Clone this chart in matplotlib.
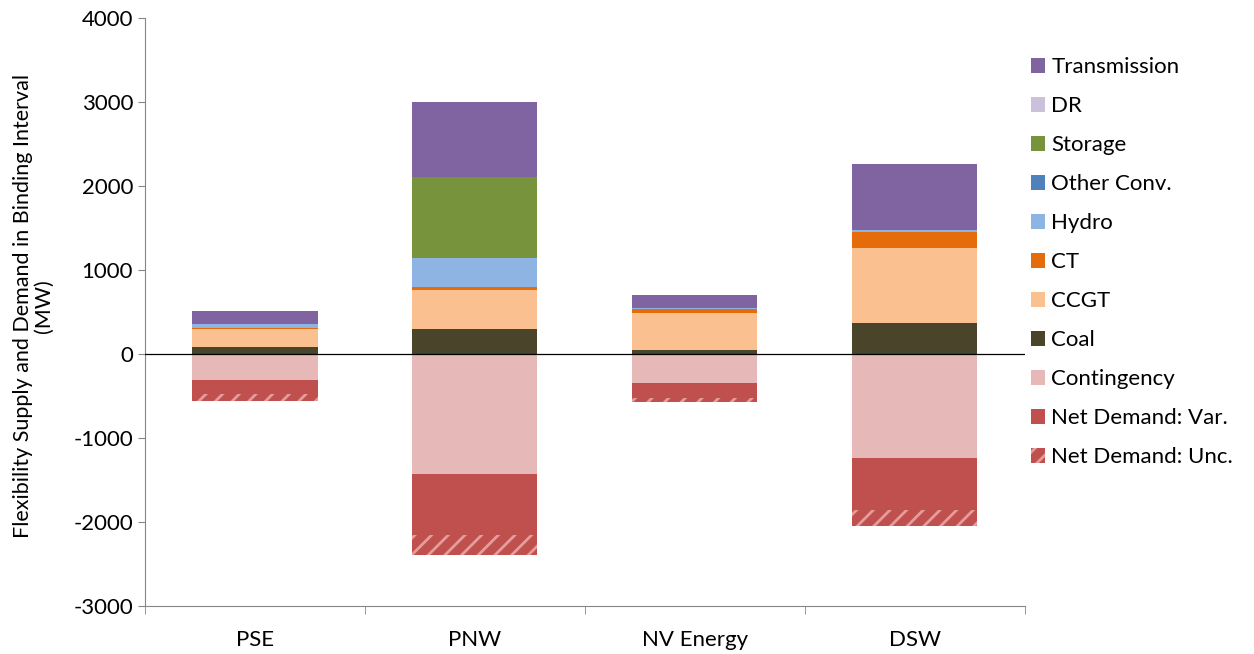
import numpy as np
import matplotlib
matplotlib.use('Agg')
import matplotlib.pyplot as plt
from matplotlib.patches import Patch

plt.rcParams['font.family'] = ['Lato', 'DejaVu Sans']
plt.rcParams['hatch.linewidth'] = 2.0
plt.rcParams['axes.unicode_minus'] = False

regions = ['PSE', 'PNW', 'NV Energy', 'DSW']

# supply (MW), stacked upward from zero
coal = [83, 294, 51, 373]
ccgt = [217, 472, 437, 893]
ct = [10, 32, 52, 186]
hydro = [50, 345, 10, 20]
other_conv = [0, 5, 0, 0]
storage = [0, 957, 0, 0]
dr = [0, 0, 0, 6]
transmission = [148, 895, 155, 786]

# demand (MW), stacked downward from zero
contingency = [313, 1428, 345, 1234]
nd_var = [168, 731, 180, 627]
nd_unc = [75, 230, 45, 191]

supply = [
    ('Coal', coal, '#4A452A'),
    ('CCGT', ccgt, '#FAC090'),
    ('CT', ct, '#E46C0A'),
    ('Hydro', hydro, '#8EB4E3'),
    ('Other Conv.', other_conv, '#4F81BD'),
    ('Storage', storage, '#77933C'),
    ('DR', dr, '#CCC1DA'),
    ('Transmission', transmission, '#8064A2'),
]
demand = [
    ('Contingency', contingency, '#E6B9B8'),
    ('Net Demand: Var.', nd_var, '#C0504D'),
]
red = '#C0504D'

fig = plt.figure(figsize=(12.54, 6.54), dpi=100)
ax = fig.add_axes([0.1156, 0.0734, 0.7014, 0.8991])

x = np.arange(len(regions))
w = 0.57

bottom = np.zeros(len(regions))
for name, vals, col in supply:
    v = np.array(vals, dtype=float)
    ax.bar(x, v, w, bottom=bottom, color=col, linewidth=0)
    bottom += v

bottom = np.zeros(len(regions))
for name, vals, col in demand:
    v = -np.array(vals, dtype=float)
    ax.bar(x, v, w, bottom=bottom, color=col, linewidth=0)
    bottom += v
ax.bar(x, -np.array(nd_unc, dtype=float), w, bottom=bottom, facecolor=red,
       edgecolor='#E59C9A', hatch='//', linewidth=0)

ax.axhline(0, color='black', lw=0.9, zorder=3)

ax.set_xlim(-0.5, 3.5)
ax.set_ylim(-3000, 4000)
ax.set_yticks(np.arange(-3000, 4001, 1000))
ax.set_xticks(x)
ax.set_xticklabels(regions)
ax.set_xticks(np.arange(-0.5, 3.6, 1.0), minor=True)
ax.tick_params(axis='x', which='major', length=0, labelsize=16, pad=17)
ax.tick_params(axis='x', which='minor', length=6, color='#868686', direction='out')
ax.tick_params(axis='y', length=5, color='#868686', labelsize=16)

for s in ['top', 'right']:
    ax.spines[s].set_visible(False)
for s in ['left', 'bottom']:
    ax.spines[s].set_color('#868686')

ax.set_ylabel('Flexibility Supply and Demand in Binding Interval\n(MW)',
              fontsize=15.5, linespacing=1.0)
ax.yaxis.set_label_coords(-0.104, 0.51)

handles = [Patch(facecolor=c, edgecolor='none', label=n) for n, _, c in supply[::-1]]
handles += [Patch(facecolor=c, edgecolor='none', label=n) for n, _, c in demand]
handles.append(Patch(facecolor=red, edgecolor='#E59C9A', hatch='//', linewidth=0,
                     label='Net Demand: Unc.'))
fig.legend(handles=handles, loc='upper left', bbox_to_anchor=(0.806, 0.943),
           frameon=False, fontsize=16, handlelength=0.63, handleheight=0.63,
           handletextpad=0.3, labelspacing=0.855)

fig.savefig('out.png', dpi=100)
